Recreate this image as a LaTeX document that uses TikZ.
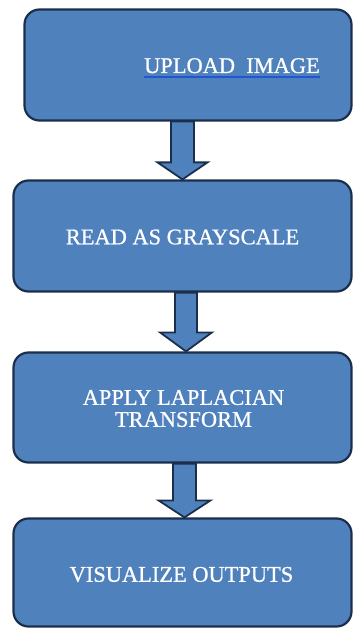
\documentclass[tikz,border=0pt]{standalone}
\usepackage{fontspec}
\setmainfont{Liberation Serif}
\newfontfamily\boxfont[FakeBold=0.8]{Liberation Serif}
\usetikzlibrary{calc}
\definecolor{boxblue}{HTML}{4F81BD}
\definecolor{boxedge}{HTML}{1B2F4C}
\definecolor{ulblue}{HTML}{2255D0}
\tikzset{
  flowbox/.style={draw=boxedge, fill=boxblue, line width=2.2bp, rounded corners=15bp, inner sep=0pt},
  boxtext/.style={text=white, font=\boxfont\fontsize{22.5}{22}\selectfont, align=center, inner sep=0pt},
  blockarrow/.style={draw=boxedge, fill=boxblue, line width=1.8bp, line join=miter}
}
\begin{document}
\begin{tikzpicture}[x=1bp, y=-1bp]
\useasboundingbox (0,0) rectangle (353,628);
% boxes
\node[flowbox, minimum width=327bp, minimum height=111bp] (b1) at (188,65) {};
\node[flowbox, minimum width=338bp, minimum height=111bp] (b2) at (182.5,236) {};
\node[flowbox, minimum width=338bp, minimum height=110bp] (b3) at (182.5,407.5) {};
\node[flowbox, minimum width=338bp, minimum height=108bp] (b4) at (182.5,572.5) {};
% texts
\node[boxtext, anchor=base] (t1) at (232,73) {UPLOAD\ \ IMAGE};
\draw[ulblue, line width=1.4bp] ($(t1.base west)+(0,4)$) -- ($(t1.base east)+(0,4)$);
\node[boxtext] (t2) at ($(b2.center)+(0,1)$) {READ AS GRAYSCALE};
\node[boxtext] (t3) at ($(b3.center)+(1,1)$) {APPLY LAPLACIAN\\TRANSFORM};
\node[boxtext] (t4) at ($(b4.center)+(-1,2)$) {VISUALIZE OUTPUTS};
% block arrows
\draw[blockarrow]
  ($(b1.south -| b2.north)+(-11.5,0)$) -- ($(b2.north)+(-11.5,-17)$) -- ($(b2.north)+(-25,-17)$)
  -- (b2.north) -- ($(b2.north)+(25,-17)$) -- ($(b2.north)+(11.5,-17)$)
  -- ($(b1.south -| b2.north)+(11.5,0)$) -- cycle;
\draw[blockarrow]
  ($(b2.south)+(3.5-11,0)$) -- ($(b3.north)+(3.5-11,-19)$) -- ($(b3.north)+(3.5-26,-19)$)
  -- ($(b3.north)+(3.5,0)$) -- ($(b3.north)+(3.5+26,-19)$) -- ($(b3.north)+(3.5+11,-19)$)
  -- ($(b2.south)+(3.5+11,0)$) -- cycle;
\draw[blockarrow]
  ($(b3.south)+(2-11.5,0)$) -- ($(b4.north)+(2-11.5,-17)$) -- ($(b4.north)+(2-26,-17)$)
  -- ($(b4.north)+(2,0)$) -- ($(b4.north)+(2+26,-17)$) -- ($(b4.north)+(2+11.5,-17)$)
  -- ($(b3.south)+(2+11.5,0)$) -- cycle;
\end{tikzpicture}
\end{document}
